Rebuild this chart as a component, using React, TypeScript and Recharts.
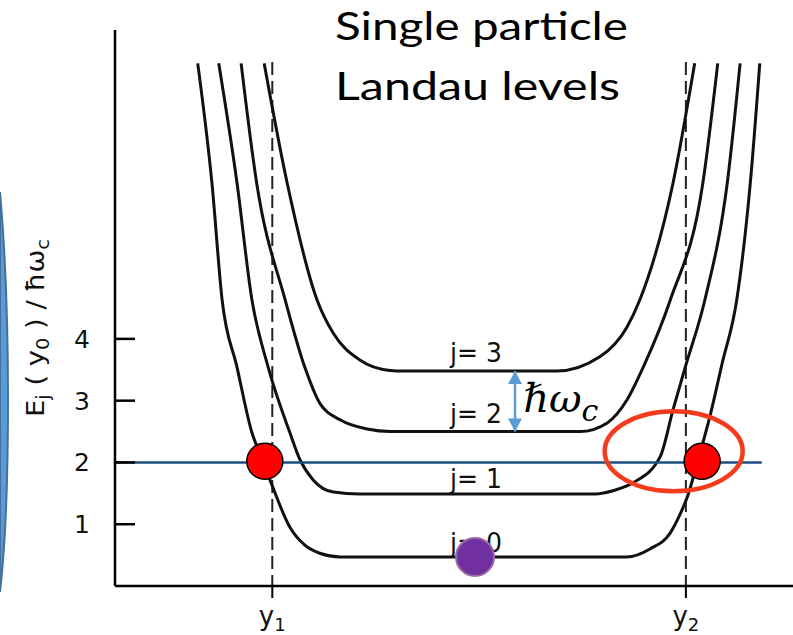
import React from "react";
import { ComposedChart, Line, Scatter, XAxis, YAxis, ReferenceLine } from "recharts";

const W = 793;
const H = 635;

// energy of each level vs guiding centre position (x: 0-100 across the sample, y: E / ħω_c)
const level0 = [
  { x: 12.2, y: 8.46 }, { x: 14.3, y: 6.52 }, { x: 15.8, y: 4.63 }, { x: 18.0, y: 3.54 },
  { x: 20.2, y: 2.48 }, { x: 21.7, y: 2.06 }, { x: 23.2, y: 1.62 }, { x: 25.8, y: 0.95 },
  { x: 28.0, y: 0.66 }, { x: 30.2, y: 0.53 }, { x: 33.2, y: 0.47 },
  { x: 75.5, y: 0.47 }, { x: 78.9, y: 0.6 }, { x: 81.9, y: 0.86 }, { x: 83.3, y: 1.15 },
  { x: 84.5, y: 1.47 }, { x: 86.0, y: 2.04 }, { x: 87.8, y: 2.77 }, { x: 89.5, y: 3.58 },
  { x: 91.7, y: 4.63 }, { x: 93.7, y: 6.52 }, { x: 95.1, y: 8.46 },
];
const level1 = [
  { x: 15.3, y: 8.46 }, { x: 18.0, y: 6.52 }, { x: 20.2, y: 4.63 }, { x: 22.6, y: 3.54 },
  { x: 25.8, y: 2.48 }, { x: 27.3, y: 2.04 }, { x: 29.2, y: 1.72 }, { x: 32.2, y: 1.52 },
  { x: 36.1, y: 1.49 },
  { x: 70.8, y: 1.49 }, { x: 73.7, y: 1.55 }, { x: 76.4, y: 1.67 }, { x: 80.4, y: 2.09 },
  { x: 82.3, y: 2.85 }, { x: 84.1, y: 3.54 }, { x: 87.0, y: 4.63 }, { x: 90.3, y: 6.52 },
  { x: 92.2, y: 8.46 },
];
const level2 = [
  { x: 18.6, y: 8.46 }, { x: 20.9, y: 6.52 }, { x: 25.1, y: 4.63 }, { x: 28.0, y: 3.54 },
  { x: 30.2, y: 2.96 }, { x: 33.2, y: 2.69 }, { x: 37.2, y: 2.54 }, { x: 40.6, y: 2.5 },
  { x: 68.6, y: 2.5 }, { x: 72.6, y: 2.64 }, { x: 75.5, y: 3.01 }, { x: 77.9, y: 3.54 },
  { x: 81.9, y: 4.63 }, { x: 86.7, y: 6.52 }, { x: 88.9, y: 8.46 },
];
const level3 = [
  { x: 22.0, y: 8.46 }, { x: 25.4, y: 6.52 }, { x: 29.8, y: 4.63 }, { x: 32.2, y: 4.09 },
  { x: 36.1, y: 3.66 }, { x: 40.6, y: 3.49 }, { x: 42.5, y: 3.48 },
  { x: 65.2, y: 3.48 }, { x: 71.5, y: 3.71 }, { x: 75.5, y: 4.19 }, { x: 77.4, y: 4.63 },
  { x: 82.3, y: 6.52 }, { x: 85.5, y: 8.46 },
];
const levels = [level0, level1, level2, level3];

const yTicks = [1, 2, 3, 4];
const edgeTicks = [23.2, 84.2];
const edgeLabels = ["1", "2"];
const curveTop = 8.48;
const fermiLevel = 2;
const fermiEnd = 95.4;

const crossings = [{ x: 22.1, y: 2.02 }, { x: 86.6, y: 2.02 }];
const bulkState = [{ x: 53.1, y: 0.47 }];
const edgeRing = [{ x: 82.4, y: 2.18 }];
const gapArrow = [{ x: 59.0, y: 3.48 }, { x: 59.0, y: 2.5 }];
const gapLabel = [{ x: 60.2, y: 2.82 }];
const levelLabels = [
  { x: 49.4, y: 0.55, text: "j= 0" },
  { x: 49.4, y: 1.59, text: "j= 1" },
  { x: 49.4, y: 2.64, text: "j= 2" },
  { x: 49.4, y: 3.62, text: "j= 3" },
];

const figFont = "'DejaVu Sans', sans-serif";

const YTick = (p: any) => (
  <g>
    <line x1={p.x} y1={p.y} x2={p.x + 20} y2={p.y} stroke="#000" strokeWidth={2.5} />
    <text x={p.x - 33} y={p.y} dy={9} textAnchor="middle" fontSize={25} fontFamily={figFont} fill="#111">
      {p.payload.value}
    </text>
  </g>
);

const XTick = (p: any) => (
  <text x={p.x} y={p.y} dy={27} textAnchor="middle" fontSize={26} fontFamily={figFont} fill="#111">
    y<tspan fontSize={18} dy={6}>{edgeLabels[p.index]}</tspan>
  </text>
);

export default function App() {
  return (
    <div style={{ position: "absolute", left: 0, top: 0, width: W, height: H, background: "#fff" }}>
      <ComposedChart width={W} height={H} margin={{ top: 30, right: 0, bottom: 0, left: 0 }}>
        <XAxis
          type="number"
          dataKey="x"
          domain={[0, 100]}
          ticks={edgeTicks}
          tick={XTick}
          tickSize={12}
          tickMargin={0}
          height={49}
          axisLine={{ stroke: "#000", strokeWidth: 2.5 }}
          tickLine={{ stroke: "#000", strokeWidth: 2 }}
        />
        <YAxis
          type="number"
          dataKey="y"
          domain={[0, 9]}
          ticks={yTicks}
          tick={YTick}
          tickLine={false}
          tickSize={0}
          tickMargin={0}
          width={115}
          axisLine={{ stroke: "#000", strokeWidth: 2.5 }}
        />
        {edgeTicks.map((t) => (
          <ReferenceLine
            key={t}
            segment={[{ x: t, y: curveTop }, { x: t, y: 0 }]}
            stroke="#222"
            strokeWidth={2}
            strokeDasharray="13 6"
            ifOverflow="visible"
          />
        ))}
        {levels.map((d, i) => (
          <Line
            key={i}
            data={d}
            dataKey="y"
            type="monotone"
            stroke="#111"
            strokeWidth={3}
            dot={false}
            isAnimationActive={false}
          />
        ))}
        <ReferenceLine
          segment={[{ x: 0, y: fermiLevel }, { x: fermiEnd, y: fermiLevel }]}
          stroke="#1c4f82"
          strokeWidth={2.5}
        />
        <Line
          data={gapArrow}
          dataKey="y"
          type="linear"
          stroke="#5b9bd5"
          strokeWidth={2.5}
          isAnimationActive={false}
          dot={(p: any) => (
            <path
              key={p.index}
              d={
                p.index === 0
                  ? `M${p.cx},${p.cy} l-7,13 l14,0 z`
                  : `M${p.cx},${p.cy} l-7,-13 l14,0 z`
              }
              fill="#5b9bd5"
            />
          )}
        />
        <Scatter
          data={levelLabels}
          dataKey="y"
          isAnimationActive={false}
          shape={(p: any) => (
            <text
              x={p.cx}
              y={p.cy}
              fontSize={26}
              fontFamily={figFont}
              fill="#111"
              textLength={52}
              lengthAdjust="spacingAndGlyphs"
            >
              {p.payload.text}
            </text>
          )}
        />
        <Scatter
          data={gapLabel}
          dataKey="y"
          isAnimationActive={false}
          shape={(p: any) => (
            <text x={p.cx} y={p.cy} fontSize={40} fontFamily="'DejaVu Serif', serif" fontStyle="italic" fill="#000">
              ℏω<tspan fontSize={30} dy={9}>c</tspan>
            </text>
          )}
        />
        <Scatter
          data={crossings}
          dataKey="y"
          isAnimationActive={false}
          shape={(p: any) => <circle cx={p.cx} cy={p.cy} r={18} fill="#ff0000" stroke="#000" strokeWidth={1.5} />}
        />
        <Scatter
          data={edgeRing}
          dataKey="y"
          isAnimationActive={false}
          shape={(p: any) => <ellipse cx={p.cx} cy={p.cy} rx={69} ry={40} fill="none" stroke="#f53b1c" strokeWidth={4.5} />}
        />
        <Scatter
          data={bulkState}
          dataKey="y"
          isAnimationActive={false}
          shape={(p: any) => <circle cx={p.cx} cy={p.cy} r={19} fill="#7030a0" stroke="#9b6aa3" strokeWidth={2} />}
        />
      </ComposedChart>
      <svg width={W} height={H} style={{ position: "absolute", left: 0, top: 0, pointerEvents: "none" }}>
        <path d="M0,192 C6,260 8,330 8,400 C8,480 6,540 0,592 Z" fill="#5b9bd5" stroke="#41719c" strokeWidth={2} />
        <text
          x={335}
          y={40}
          fontFamily="Lato, 'Open Sans', sans-serif"
          fontSize={38}
          fill="#000"
          textLength={293}
          lengthAdjust="spacingAndGlyphs"
        >
          Single particle
        </text>
        <text
          x={335}
          y={100}
          fontFamily="Lato, 'Open Sans', sans-serif"
          fontSize={38}
          fill="#000"
          textLength={285}
          lengthAdjust="spacingAndGlyphs"
        >
          Landau levels
        </text>
        <text
          transform="translate(44,328) rotate(-90)"
          x={-89}
          y={0}
          fontFamily={figFont}
          fontSize={24}
          fill="#111"
          textLength={178}
          lengthAdjust="spacingAndGlyphs"
        >
          E<tspan fontSize={17} dy={5}>j</tspan>
          <tspan dy={-5}> ( y</tspan>
          <tspan fontSize={17} dy={5}>0</tspan>
          <tspan dy={-5}> ) / ħω</tspan>
          <tspan fontSize={17} dy={5}>c</tspan>
        </text>
      </svg>
    </div>
  );
}
